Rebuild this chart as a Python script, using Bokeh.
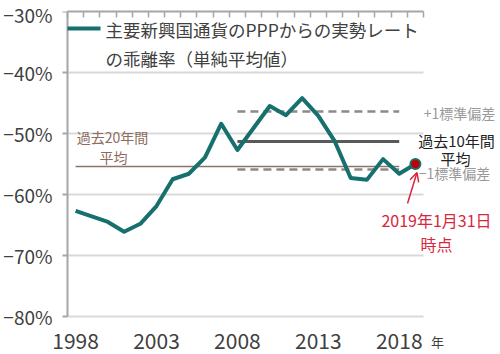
from bokeh.plotting import figure
from bokeh.models import (Range1d, FixedTicker, LinearAxis, Label, Arrow, OpenHead)
from bokeh.core.properties import value
from bokeh.embed import file_html
from bokeh.resources import INLINE

# ---- data ----
years = list(range(1998, 2020))
deviation = [-62.7, -63.6, -64.5, -66.1, -64.8, -61.9, -57.5, -56.6, -53.9, -48.4,
             -52.7, -49.1, -45.5, -47.0, -44.2, -47.1, -51.2, -57.3, -57.6, -54.2,
             -56.6, -55.0]
avg20_years = [1998, 2018]
avg20 = [-55.4, -55.4]
band_years = [2008, 2018]
avg10 = [-51.3, -51.3]
sd_plus = [-46.4, -46.4]
sd_minus = [-55.9, -55.9]
y_ticks = [-30, -40, -50, -60, -70, -80]
y_tick_labels = ["−30%", "−40%", "−50%", "−60%", "−70%", "−80%"]
x_tick_years = [1998, 2003, 2008, 2013, 2018]

FONT = "Noto Sans CJK JP"
TEAL = "#17706d"
RED = "#d7263d"
AXIS_GRAY = "#a6a6a6"

# geometry of the chart body (pixels)
X0, X1 = 1997.5, 2019.5
Y0, Y1 = -80, -30
FL, FR, FT, FB = 67, 423, 11, 316
FRAME_LEFT = 53


def X(px):
    return X0 + (px - FL) / (FR - FL) * (X1 - X0)


def Y(py):
    return Y1 - (py - FT) / (FB - FT) * (Y1 - Y0)


# frame reaches the right, bottom edges (and nearly the left) so notes are not clipped
p = figure(width=500, height=354, output_backend="svg", toolbar_location=None,
           x_range=Range1d(X(FRAME_LEFT), X(500)), y_range=Range1d(Y(354), Y1),
           min_border_left=FRAME_LEFT, min_border_right=0,
           min_border_top=FT, min_border_bottom=0,
           x_axis_location=None, y_axis_location=None)
p.outline_line_color = None
p.background_fill_color = "white"
p.border_fill_color = "white"
p.xgrid.visible = False
p.ygrid.visible = False

# horizontal gridlines limited to the chart body
grid_y = y_ticks[1:]
p.segment(x0=[X0] * len(grid_y), y0=grid_y, x1=[X1] * len(grid_y), y1=grid_y,
          line_color="#d9d9d9", line_width=2)

# left axis: labels from the axis, line and outward ticks at the body edge
yax = LinearAxis(ticker=FixedTicker(ticks=y_ticks),
                 major_label_overrides={t: l for t, l in zip(y_ticks, y_tick_labels)})
yax.axis_line_color = None
yax.major_tick_line_color = None
yax.minor_tick_line_color = None
yax.major_tick_out = 0
yax.major_tick_in = 0
yax.major_label_standoff = 1
yax.major_label_text_font = FONT
yax.major_label_text_font_size = "19px"
yax.major_label_text_color = "#404040"
p.add_layout(yax, "left")

p.segment(x0=[X0], y0=[Y0], x1=[X0], y1=[Y1], line_color=AXIS_GRAY, line_width=2)
p.segment(x0=[X(62)] * len(y_ticks), y0=y_ticks, x1=[X0] * len(y_ticks), y1=y_ticks,
          line_color=AXIS_GRAY, line_width=2)

# top axis line with inward ticks at category boundaries
boundaries = [y - 0.5 for y in years] + [years[-1] + 0.5]
tax = LinearAxis(ticker=FixedTicker(ticks=boundaries), bounds=(X0, X1))
tax.axis_line_color = AXIS_GRAY
tax.axis_line_width = 2
tax.major_tick_line_color = AXIS_GRAY
tax.major_tick_line_width = 1.5
tax.major_tick_in = 6
tax.major_tick_out = 0
tax.minor_tick_line_color = None
tax.major_label_text_font_size = "0px"
tax.major_label_standoff = 0
p.add_layout(tax, "above")

# year labels under the chart body
p.text(x=x_tick_years, y=[Y(340)] * len(x_tick_years),
       text=[str(y) for y in x_tick_years], text_font=value(FONT),
       text_font_size=value("21px"), text_color="#404040",
       text_align="center", text_baseline="middle")

# reference lines
p.line(avg20_years, avg20, line_color="#8c7466", line_width=1.5)
p.line(band_years, sd_plus, line_color="#8a8a8a", line_width=2.5, line_dash="8 5")
p.line(band_years, sd_minus, line_color="#8a8a8a", line_width=2.5, line_dash="8 5")
p.line(band_years, avg10, line_color="#5a5a5a", line_width=3)

# main series
p.line(years, deviation, line_color=TEAL, line_width=4, line_join="round")
p.scatter([years[-1]], [deviation[-1]], size=10, fill_color="#c00000",
          line_color=TEAL, line_width=2)

# legend
p.add_layout(Arrow(x_start=X(67), y_start=Y(28), x_end=X(100), y_end=Y(28),
                   end=None, line_color=TEAL, line_width=4))


def lab(text, px, py, size, color, align="left"):
    p.add_layout(Label(x=X(px), y=Y(py), text=text, text_font=FONT,
                       text_font_size=size, text_color=color,
                       text_align=align, text_baseline="middle"))


lab("主要新興国通貨のPPPからの実勢レート", 105, 29, "17.5px", "#404040")
lab("の乖離率（単純平均値）", 105, 58, "17.5px", "#404040")

lab("過去20年間", 112, 136, "14px", "#8c6c5c", "center")
lab("平均", 113, 156, "14px", "#8c6c5c", "center")

lab("+1標準偏差", 459, 112, "14px", "#999999", "center")
lab("過去10年間", 456, 140, "15px", "#222222", "center")
lab("平均", 455, 158, "15px", "#222222", "center")
lab("−1標準偏差", 454, 172, "14px", "#999999", "center")

lab("2019年1月31日", 436, 219, "16px", RED, "center")
lab("時点", 436, 243, "16px", RED, "center")
lab("年", 437, 341, "13px", "#404040", "center")

p.add_layout(Arrow(x_start=X(407), y_start=Y(203), x_end=X(416.5), y_end=Y(172),
                   line_color=RED, line_width=1.5,
                   end=OpenHead(size=9, line_color=RED, line_width=1.5)))

open("out.html", "w").write(file_html(p, INLINE))
